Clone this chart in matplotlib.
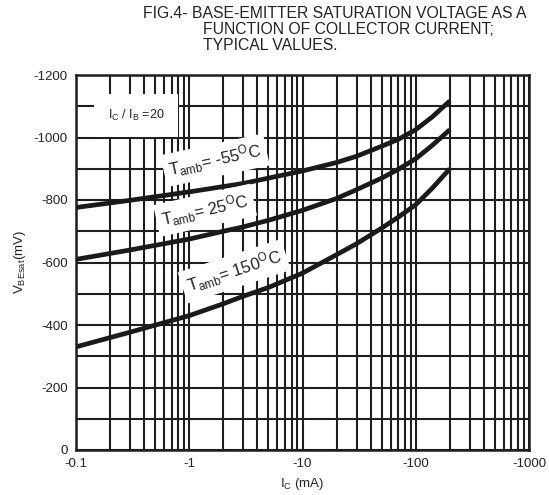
import matplotlib
matplotlib.use("Agg")
import matplotlib.pyplot as plt
import numpy as np
from matplotlib.ticker import FixedLocator, NullFormatter

plt.rcParams['font.family'] = ['Liberation Sans', 'DejaVu Sans']
plt.rcParams['mathtext.fontset'] = 'custom'
plt.rcParams['mathtext.rm'] = 'Liberation Sans'
plt.rcParams['mathtext.it'] = 'Liberation Sans'

# Data (collector current in mA magnitude, V_BEsat in mV)
ic = [0.1, 0.3, 1, 2, 3, 5, 10, 20, 30, 50, 70, 100, 140, 200]
v_m55 = [-776, -799, -826, -843, -853, -870, -893, -920, -940, -972, -994, -1025, -1066, -1117]
v_25 = [-610, -640, -675, -700, -714, -735, -767, -805, -833, -870, -898, -932, -975, -1025]
v_150 = [-330, -377, -430, -468, -492, -520, -566, -625, -660, -710, -745, -785, -838, -900]

x_ticks = [0.1, 1, 10, 100, 1000]
x_tick_labels = ["-0.1", "-1", "-10", "-100", "-1000"]
y_ticks = [0, -200, -400, -600, -800, -1000, -1200]
y_tick_labels = ["0", "-200", "-400", "-600", "-800", "-1000", "-1200"]

fig = plt.figure(figsize=(5.49, 4.95), dpi=100)
ax = fig.add_axes([76/549, 45/495, 453/549, 375/495])

ax.set_xscale('log')
ax.set_xlim(0.1, 1000)
ax.set_ylim(0, -1200)

gc = '#1e1e1e'
minor = []
for d in [0.1, 1, 10, 100]:
    for m in range(2, 10):
        minor.append(d * m)
ax.xaxis.set_major_locator(FixedLocator(x_ticks))
ax.xaxis.set_minor_locator(FixedLocator(minor))
ax.xaxis.set_minor_formatter(NullFormatter())
ax.set_xticklabels(x_tick_labels)
ax.yaxis.set_major_locator(FixedLocator(y_ticks))
ax.yaxis.set_minor_locator(FixedLocator(list(range(-100, -1200, -200))))
ax.set_yticklabels(y_tick_labels)
ax.grid(True, which='both', color=gc, linewidth=1.5)
ax.tick_params(which='both', length=0, labelsize=9.5, colors='#222222', pad=6)
for s in ax.spines.values():
    s.set_color(gc)
    s.set_linewidth(1.8)

for v in [v_m55, v_25, v_150]:
    ax.plot(ic, v, color='#1a1a1a', linewidth=3.4, solid_capstyle='butt',
            solid_joinstyle='round', zorder=3)

bb = dict(boxstyle='square,pad=0.3', facecolor='white', edgecolor='none')
tk = dict(fontsize=12, color='#222222', ha='center', va='center', zorder=5, bbox=bb)
ax.text(1.69, -927, r'T$_{\mathrm{amb}}$= -55$^{\mathrm{O}}$C', rotation=12, **tk)
ax.text(1.38, -767, r'T$_{\mathrm{amb}}$= 25$^{\mathrm{O}}$C', rotation=12.5, **tk)
ax.text(2.5, -572, r'T$_{\mathrm{amb}}$= 150$^{\mathrm{O}}$C', rotation=18, **tk)
ax.text(0.34, -1071, r'I$_{\mathrm{C}}$ / I$_{\mathrm{B}}$ =20', fontsize=9, color='#222222',
        ha='center', va='center', zorder=5,
        bbox=dict(boxstyle='square,pad=1.1', facecolor='white', edgecolor='none'))

ax.set_xlabel(r'I$_{\mathrm{C}}$ (mA)', fontsize=9.5, color='#222222', labelpad=4)
ax.set_ylabel(r'V$_{\mathrm{BEsat}}$(mV)', fontsize=9.5, color='#222222', labelpad=4)

fig.text(143/549, 1 - 14/495, 'FIG.4- BASE-EMITTER SATURATION VOLTAGE AS A', fontsize=11.3,
         color='#222222', ha='left', va='center')
fig.text(203/549, 1 - 30/495, 'FUNCTION OF COLLECTOR CURRENT;', fontsize=11.3,
         color='#222222', ha='left', va='center')
fig.text(203/549, 1 - 45/495, 'TYPICAL VALUES.', fontsize=11.3,
         color='#222222', ha='left', va='center')

fig.savefig('out.png', dpi=100)
